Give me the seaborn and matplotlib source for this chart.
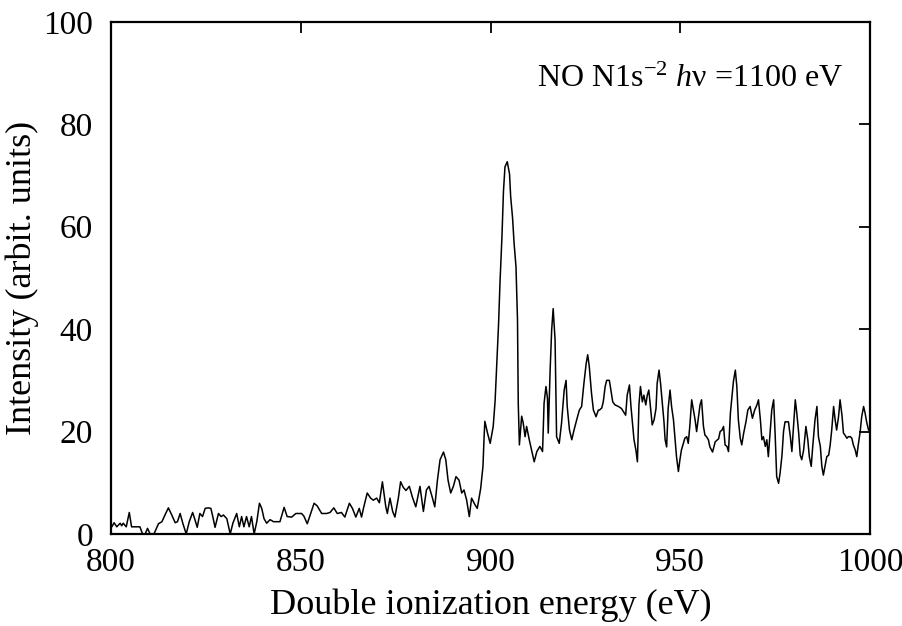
import matplotlib
matplotlib.use("Agg")
import matplotlib.pyplot as plt
import seaborn as sns
import pandas as pd

# double ionization energy (eV)
energy = [
    800.2, 800.8, 801.5, 802.4, 802.8, 803.2, 804.0, 804.8, 805.4, 806.3,
    807.6, 808.3, 809.0, 809.6, 810.3, 811.3, 812.5, 813.4, 814.2, 815.1,
    816.0, 816.9, 817.5, 818.2, 818.9, 819.8, 820.6, 821.5, 822.1, 822.7,
    823.4, 824.1, 824.8, 825.6, 826.3, 826.8, 827.4, 828.3, 829.0, 829.6,
    830.5, 831.4, 832.1, 833.1, 833.8, 834.4, 835.0, 835.7, 836.4, 837.0,
    837.7, 838.4, 839.1, 839.7, 840.3, 841.0, 841.9, 842.8, 843.6, 844.5,
    845.6, 846.4, 847.6, 848.7, 850.2, 850.8, 851.7, 852.6, 853.5, 854.3,
    855.5, 856.8, 857.7, 858.7, 859.6, 860.7, 861.6, 862.8, 863.6, 864.5,
    865.4, 866.0, 866.6, 867.5, 868.4, 869.1, 870.0, 870.7, 871.5, 872.4,
    872.8, 873.5, 874.2, 874.8, 875.7, 876.3, 877.0, 877.7, 878.6, 879.4,
    880.3, 881.4, 882.3, 883.1, 883.8, 884.7, 885.3, 886.0, 886.7, 887.6,
    888.2, 888.8, 889.5, 890.2, 890.9, 891.7, 892.4, 893.0, 893.7, 894.4,
    895.0, 895.9, 896.5, 897.4, 898.0, 898.3, 898.5, 899.2, 899.9, 900.7,
    901.2, 901.6, 902.1, 902.5, 903.0, 903.4, 903.8, 904.4, 905.0, 905.3,
    905.8, 906.2, 906.7, 907.1, 907.3, 907.6, 908.2, 908.6, 909.1, 909.5,
    910.2, 910.8, 911.5, 912.2, 913.0, 913.7, 914.1, 914.6, 915.0, 915.2,
    915.7, 916.1, 916.5, 917.0, 917.4, 918.1, 918.7, 919.4, 919.9, 920.2,
    920.8, 921.4, 922.0, 922.7, 923.4, 924.0, 924.6, 925.2, 925.6, 926.0,
    926.6, 927.1, 927.8, 928.4, 928.7, 929.3, 929.7, 930.2, 930.6, 931.3,
    931.7, 932.2, 932.8, 933.7, 934.5, 935.0, 935.6, 936.0, 936.6, 937.0,
    937.4, 937.8, 938.3, 938.7, 939.1, 939.5, 940.0, 940.4, 940.9, 941.3,
    941.7, 942.2, 942.6, 943.1, 943.6, 943.9, 944.4, 944.8, 945.3, 945.7,
    946.0, 946.4, 946.8, 947.3, 947.7, 948.2, 948.6, 949.0, 949.5, 949.9,
    950.3, 950.8, 951.2, 951.7, 952.1, 952.5, 953.0, 953.4, 953.9, 954.3,
    954.7, 955.2, 955.6, 956.1, 956.5, 956.9, 957.4, 957.8, 958.5, 959.2,
    960.1, 960.5, 961.0, 961.4, 961.8, 962.3, 962.7, 963.2, 963.6, 964.0,
    964.5, 964.9, 965.3, 965.8, 966.2, 966.7, 967.3, 967.8, 968.4, 969.0,
    969.6, 970.2, 970.6, 971.1, 971.5, 971.9, 972.4, 972.8, 973.2, 973.7,
    974.1, 974.6, 975.0, 975.4, 975.9, 976.3, 976.8, 977.2, 977.6, 978.5,
    979.0, 979.4, 979.8, 980.3, 980.7, 981.2, 981.6, 982.0, 982.5, 983.1,
    983.6, 984.0, 984.5, 984.9, 985.5, 986.0, 986.4, 986.9, 987.3, 987.7,
    988.2, 988.6, 989.1, 989.5, 989.9, 990.4, 990.8, 991.2, 991.7, 992.1,
    992.6, 993.0, 993.4, 993.9, 994.3, 994.8, 995.2, 995.6, 996.1, 996.5,
    996.9, 997.4, 997.8, 998.3, 998.7, 999.1, 999.6, 1000.0,
]

intensity = [
    1.4, 2.2, 1.4, 2.1, 1.6, 2.1, 1.4, 4.2, 1.4, 1.4,
    1.4, 0.0, 0.0, 1.1, 0.0, 0.0, 2.0, 2.4, 3.7, 5.1,
    3.7, 2.2, 2.4, 4.0, 2.1, 0.0, 2.4, 4.2, 2.8, 1.3,
    4.0, 3.4, 5.0, 5.1, 5.0, 3.4, 1.3, 4.0, 3.4, 3.7,
    3.0, 0.0, 2.1, 4.0, 1.4, 3.4, 1.4, 3.4, 1.4, 3.4,
    0.0, 2.4, 6.0, 5.0, 3.0, 2.1, 2.8, 2.4, 2.4, 2.4,
    5.2, 3.4, 3.3, 4.0, 4.0, 3.5, 2.0, 4.0, 6.0, 5.5,
    4.0, 4.0, 4.2, 5.1, 4.0, 4.2, 3.3, 6.0, 5.0, 3.3,
    5.0, 3.3, 5.3, 8.0, 7.0, 6.6, 7.0, 6.1, 10.2, 5.3,
    4.0, 7.0, 4.4, 3.3, 7.0, 10.2, 9.1, 8.5, 9.3, 7.2,
    5.3, 9.3, 4.4, 8.6, 9.3, 7.0, 5.3, 10.5, 14.5, 16.0,
    14.5, 10.5, 8.0, 9.3, 11.2, 10.5, 8.0, 8.6, 6.6, 3.4,
    7.0, 5.7, 5.0, 8.9, 13.2, 19.0, 22.0, 19.7, 17.7, 21.0,
    26.0, 32.7, 40.8, 49.3, 58.0, 66.9, 71.7, 72.7, 70.3, 65.9,
    61.7, 56.8, 52.2, 41.8, 25.5, 17.4, 23.0, 21.7, 19.0, 21.0,
    18.4, 16.4, 14.1, 16.1, 17.1, 16.1, 25.5, 28.8, 26.5, 19.7,
    32.0, 39.8, 44.0, 37.9, 19.0, 17.7, 21.6, 28.1, 30.0, 24.9,
    20.3, 18.4, 20.3, 22.3, 24.2, 24.9, 29.4, 33.3, 35.0, 32.8,
    27.5, 24.2, 22.9, 24.2, 24.2, 24.6, 25.8, 28.8, 30.0, 30.0,
    28.1, 25.8, 25.2, 24.9, 24.5, 23.9, 23.2, 27.1, 29.1, 24.9,
    21.6, 18.4, 16.4, 14.1, 25.2, 28.8, 25.8, 27.1, 25.2, 27.1,
    28.1, 24.2, 21.3, 22.3, 24.5, 29.4, 32.0, 29.4, 25.2, 21.9,
    18.4, 17.0, 24.5, 28.1, 24.9, 22.3, 18.7, 15.1, 12.2, 14.5,
    16.4, 17.7, 18.7, 19.0, 17.7, 21.0, 26.2, 24.5, 22.3, 20.0,
    22.3, 25.2, 26.2, 21.0, 19.3, 19.0, 18.4, 17.0, 16.0, 18.0,
    18.6, 20.0, 20.3, 21.0, 17.4, 17.1, 16.1, 23.6, 26.8, 29.8,
    32.0, 28.8, 22.3, 18.7, 17.4, 19.7, 21.9, 24.2, 24.9, 22.6,
    24.2, 25.2, 26.2, 22.3, 18.4, 19.0, 17.1, 18.4, 15.1, 20.3,
    24.2, 26.2, 19.3, 11.2, 9.9, 11.9, 15.4, 20.0, 21.9, 21.9,
    19.0, 16.1, 20.6, 26.2, 23.6, 19.7, 15.4, 14.5, 16.4, 21.0,
    18.4, 15.1, 13.2, 17.1, 22.3, 24.9, 19.0, 17.1, 13.2, 11.5,
    13.5, 15.1, 15.4, 17.4, 20.3, 24.9, 22.3, 20.3, 22.9, 26.2,
    23.2, 19.7, 19.3, 18.7, 19.0, 19.0, 18.7, 17.4, 16.4, 15.1,
    17.4, 20.0, 22.9, 24.9, 23.6, 21.9, 20.3, 20.3,
]

x_ticks = [800, 850, 900, 950, 1000]
y_ticks = [0, 20, 40, 60, 80, 100]

df = pd.DataFrame({"energy": energy, "intensity": intensity})

sns.set_theme(style="white")
plt.rcParams["font.family"] = ["Liberation Serif", "DejaVu Serif"]
plt.rcParams["mathtext.fontset"] = "custom"
plt.rcParams["mathtext.rm"] = "Liberation Serif"
plt.rcParams["mathtext.it"] = "Liberation Serif:italic"

fig = plt.figure(figsize=(9.03, 6.26), dpi=100)
ax = fig.add_axes([0.123, 0.147, 0.8405, 0.818])

sns.lineplot(data=df, x="energy", y="intensity", sort=False, estimator=None,
             color="black", linewidth=1.1, ax=ax)

ax.set_xlim(800, 1000)
ax.set_ylim(0, 100)
ax.set_xticks(x_ticks)
ax.set_yticks(y_ticks)
ax.tick_params(direction="in", length=8, width=1.3, top=True, right=True,
               labelsize=24, colors="black")
ax.tick_params(axis="y", pad=13)
ax.tick_params(axis="x", pad=10)
for s in ax.spines.values():
    s.set_visible(True)
    s.set_color("black")
    s.set_linewidth(1.6)

ax.set_xlabel("Double ionization energy (eV)", fontsize=26, color="black", labelpad=7)
ax.set_ylabel("Intensity (arbit. units)", fontsize=26, color="black", labelpad=3)

ax.text(0.964, 0.887, "NO N1s$^{-2}$ $h$\u03bd =1100 eV", transform=ax.transAxes,
        ha="right", va="center", fontsize=23, color="black")

fig.savefig("out.png", dpi=100)
